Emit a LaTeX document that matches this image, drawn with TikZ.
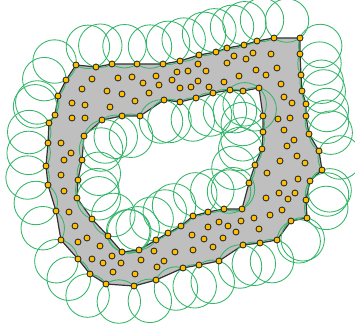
\documentclass[tikz,border=0pt]{standalone}
\usepackage{xcolor}
\usetikzlibrary{calc}
\definecolor{shapeGray}{HTML}{BFBFBF}
\definecolor{edgeGray}{HTML}{333333}
\definecolor{ringGreen}{HTML}{35B56A}
\definecolor{siteOrange}{HTML}{FFC000}
\def\ringr{16.3pt}
\tikzset{
  site/.style={circle, draw=black!85, fill=siteOrange, line width=0.65pt, inner sep=0pt, minimum size=4.5pt},
  ring/.style={draw=ringGreen, line width=0.65pt},
  edge/.style={draw=edgeGray, fill=shapeGray, line width=0.9pt, even odd rule}
}
\begin{document}
\begin{tikzpicture}[x=0.75pt, y=-0.75pt]
\useasboundingbox (0,0) rectangle (355,328);
% ---------- outer boundary sites ----------
\foreach \px/\py [count=\i] in {76/65,96/67,112/64,137/64,163/64,180/61,199/55,216/52,227/48,244/45,257/41,274/38,300/38,300/54,301/75,302/91,306/104,306/116,309/134,319/151,322/170,310/181,306/200,307/218,291/221,277/240,260/243,243/245,219/261,199/265,183/268,156/280,134/286,106/284,90/274,78/259,61/240,56/211,48/185,46/166,48/143,49/123,55/115,58/96,66/80}
  \coordinate (o\i) at (\px,\py);
% ---------- hole boundary sites ----------
\foreach \px/\py [count=\i] in {84/136,102/120,122/116,140/116,164/100,180/102,196/98,213/93,230/90,243/91,259/88,263/116,263/132,262/149,255/165,249/183,242/209,224/209,208/212,193/216,181/226,168/233,156/240,139/250,122/252,108/236,92/219,77/198,78/180,82/160}
  \coordinate (h\i) at (\px,\py);
% ---------- filled region ----------
\path[edge] (o1) \foreach \i in {2,...,45} {-- (o\i)} -- cycle
  (h1) \foreach \i in {2,...,30} {-- (h\i)} -- cycle;
% ---------- rings through neighbouring sites ----------
\foreach \i in {1,...,45} {
  \pgfmathtruncatemacro\nxt{mod(\i,45)+1}
  \draw[ring] let \p1=($(o\i)-(o\nxt)$), \n1={veclen(\x1,\y1)}, \n2={sqrt(16.3*16.3-\n1*\n1/4)} in
    ($(o\i)!0.5!(o\nxt)!\n2!90:(o\nxt)$) circle (\ringr);
}
\foreach \i in {1,...,30} {
  \pgfmathtruncatemacro\nxt{mod(\i,30)+1}
  \draw[ring] let \p1=($(h\i)-(h\nxt)$), \n1={veclen(\x1,\y1)}, \n2={sqrt(16.3*16.3-\n1*\n1/4)} in
    ($(h\i)!0.5!(h\nxt)!\n2!-90:(h\nxt)$) circle (\ringr);
}
% ---------- sites ----------
\foreach \i in {1,...,45} \node[site] (so\i) at (o\i) {};
\foreach \i in {1,...,30} \node[site] (sh\i) at (h\i) {};
\foreach \px/\py [count=\i] in {92/79,118/78,132/77,143/83,156/76,172/80,177/72,159/85,149/93,135/101,122/94,107/91,82/89,72/103,85/105,110/107,72/118,85/118,61/143,71/153,64/160,253/53,271/54,246/59,234/56,227/63,198/64,188/71,206/71,256/70,277/68,266/75,239/76,198/81,224/82,209/87,191/87,180/88,281/84,284/97,292/103,278/119,290/118,284/130,294/140,287/146,297/156,280/161,305/163,61/175,64/191,69/212,75/226,78/242,87/238,100/246,92/259,103/263,112/256,121/263,113/272,135/274,141/260,154/251,157/267,164/261,175/252,267/173,284/183,298/179,295/193,279/193,288/199,266/198,282/210,270/215,254/218,259/229,241/221,228/226,219/222,208/227,236/232,223/238,192/235,204/239,213/247,193/250}
  \node[site] (in\i) at (\px,\py) {};
\end{tikzpicture}
\end{document}
